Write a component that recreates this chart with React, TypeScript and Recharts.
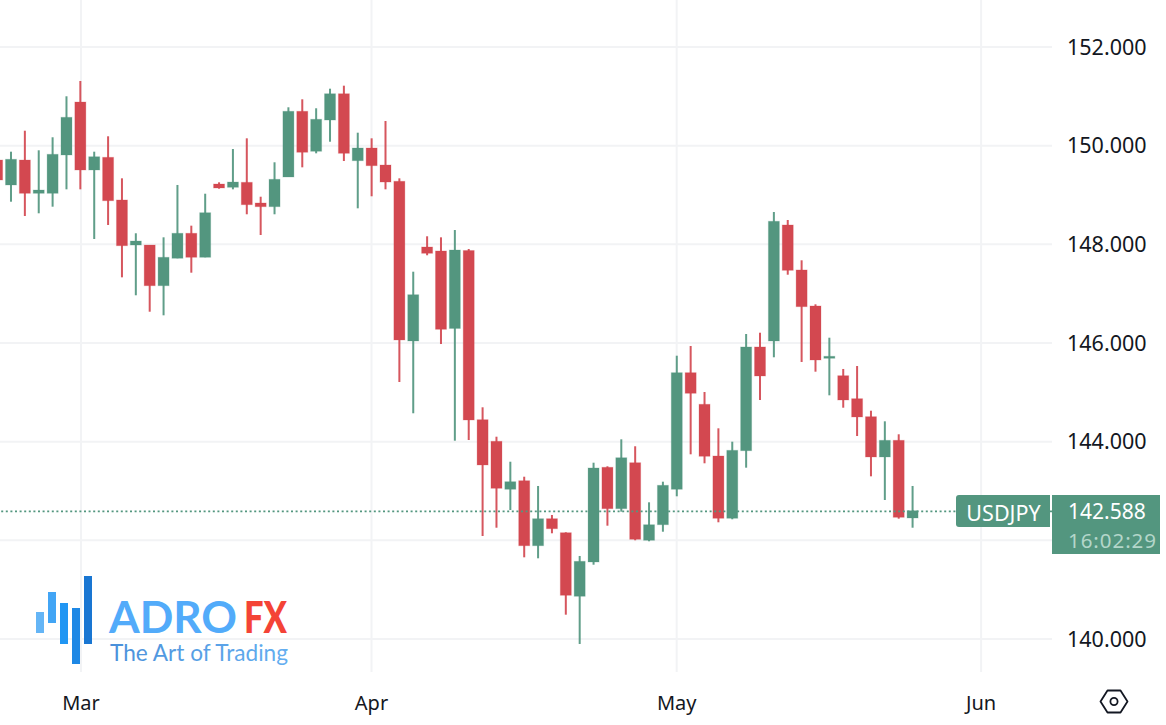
import React from "react";
import { ComposedChart, Bar, XAxis, YAxis, CartesianGrid, ReferenceLine } from "recharts";

const WIDTH = 1166;
const HEIGHT = 725;
const GREEN = "#53967F";
const RED = "#D34850";
const FONT = "'Noto Sans', 'Open Sans', sans-serif";

const highs = [149.812,149.879,150.304,149.907,150.171,151.002,151.312,149.879,150.191,149.339,148.225,147.987,148.143,149.204,148.379,149.027,149.258,149.933,150.15,148.966,149.664,150.779,150.941,150.759,151.156,151.217,150.264,150.15,150.501,149.339,147.446,148.164,148.143,148.291,147.906,144.697,144.101,143.594,143.29,143.102,142.514,142.163,141.683,143.574,143.501,144.048,143.907,142.771,143.189,145.743,145.94,145.007,144.271,144.0,146.183,146.209,148.656,148.494,147.677,146.785,146.108,145.474,145.534,144.628,144.413,144.15,143.102];
const bodyTops = [149.71,149.725,149.71,149.102,149.826,150.576,150.886,149.777,149.765,148.9,148.068,147.987,147.738,148.225,148.225,148.642,149.224,149.264,149.258,148.839,149.319,150.698,150.698,150.536,151.054,151.054,149.954,149.954,149.609,149.279,146.98,147.947,147.866,147.886,147.876,144.446,144.008,143.189,143.209,142.439,142.439,142.155,141.575,143.467,143.481,143.675,143.574,142.317,143.116,145.399,145.399,144.758,143.71,143.825,145.92,145.92,148.468,148.393,147.481,146.751,145.731,145.338,144.872,144.507,144.028,144.028,142.601];
const bodyBottoms = [149.305,149.204,149.035,149.035,149.035,149.812,149.508,149.508,148.885,147.973,147.987,147.162,147.162,147.718,147.738,147.738,149.143,149.157,148.804,148.764,148.764,149.366,149.867,149.887,150.521,149.846,149.696,149.595,149.264,146.062,146.041,147.819,146.278,146.295,144.44,143.528,143.055,143.035,141.891,141.891,142.236,140.886,140.866,141.561,142.642,142.642,142.021,142.001,142.317,143.035,144.981,143.704,142.447,142.447,143.817,145.332,146.041,147.474,146.737,145.656,145.703,144.845,144.501,143.69,143.69,142.467,142.453];
const lows = [149.204,148.865,148.575,148.63,148.764,149.116,149.116,148.109,148.393,147.332,146.968,146.635,146.562,147.718,147.426,147.738,149.129,149.116,148.61,148.19,148.61,149.366,149.562,149.846,150.081,149.69,148.731,148.975,149.116,145.21,144.576,147.779,145.98,144.02,144.034,142.088,142.256,142.615,141.656,141.636,142.143,140.493,139.899,141.506,142.297,142.581,142.001,141.981,142.175,142.893,143.744,143.562,142.366,142.427,143.473,144.845,145.711,147.385,145.616,145.419,144.94,144.689,144.115,143.298,142.818,142.439,142.256];
const rising = [0,1,0,1,1,1,0,1,0,0,1,0,1,1,0,1,0,1,0,0,1,1,0,1,1,0,1,0,0,0,1,0,0,1,0,0,0,1,0,1,0,0,1,1,0,1,0,1,1,1,0,0,0,1,1,0,1,0,0,0,1,0,0,0,1,0,1];

const monthLabels = ["Mar", "Apr", "May", "Jun"];
const monthPositions = [6.02, 26.96, 48.96, 70.91];
const priceTicks = [140, 142, 144, 146, 148, 150, 152];
const lastPrice = 142.588;
const symbol = "USDJPY";
const lastPriceLabel = "142.588";
const countdown = "16:02:29";

const candles = highs.map((high, i) => ({
  i,
  range: [lows[i], high] as [number, number],
  high,
  low: lows[i],
  top: bodyTops[i],
  bottom: bodyBottoms[i],
  up: rising[i] === 1,
}));

function Candle(props: any) {
  const { x, y, width, height, payload } = props;
  if (!payload) return null;
  const h = Math.abs(height);
  const yTop = Math.min(y, y + height);
  const span = payload.high - payload.low || 1;
  const perUnit = h / span;
  const bodyY = yTop + (payload.high - payload.top) * perUnit;
  const bodyH = Math.max((payload.top - payload.bottom) * perUnit, 2);
  const color = payload.up ? GREEN : RED;
  const cx = x + width / 2;
  return (
    <g>
      <rect x={cx - 1} y={yTop} width={2} height={Math.max(h, 1)} fill={color} opacity={0.92} />
      <rect x={cx - 5.5} y={bodyY} width={11} height={bodyH} fill={color} stroke={color} strokeOpacity={0.25} strokeWidth={1} />
    </g>
  );
}

function MonthTick(props: any) {
  const { x, y, payload } = props;
  const k = monthPositions.indexOf(payload.value);
  return (
    <text x={x} y={y} textAnchor="middle" dominantBaseline="central" fontFamily={FONT} fontSize={20} fill="#131722">
      {monthLabels[k]}
    </text>
  );
}

function Overlay() {
  return (
    <svg width={WIDTH} height={HEIGHT} style={{ position: "absolute", left: 0, top: 0, pointerEvents: "none" }} fontFamily={FONT}>
      <defs>
        <linearGradient id="tagline" x1="0" x2="1" y1="0" y2="0">
          <stop offset="0" stopColor="#4A90DA" />
          <stop offset="1" stopColor="#64AEF0" />
        </linearGradient>
      </defs>
      {/* price tag */}
      <path d="M959 495 H1050 V527 H959 a3 3 0 0 1 -3 -3 V498 a3 3 0 0 1 3 -3 Z" fill={GREEN} />
      <rect x={1052} y={495} width={108} height={59} fill={GREEN} />
      <text x={1003.5} y={512} textAnchor="middle" dominantBaseline="central" fontSize={21.5} fill="#ffffff">{symbol}</text>
      <text x={1068} y={511} dominantBaseline="central" fontSize={21} fill="#ffffff">{lastPriceLabel}</text>
      <text x={1068} y={540} dominantBaseline="central" fontSize={20.5} fill="#B4D6CA" textLength={88}>{countdown}</text>
      {/* settings hexagon */}
      <path d="M1107.5 690.5 H1120.5 L1127.5 701.5 L1120.5 712.5 H1107.5 L1100.5 701.5 Z" fill="none" stroke="#131722" strokeWidth={1.8} strokeLinejoin="round" />
      <circle cx={1114} cy={701.5} r={3.6} fill="none" stroke="#131722" strokeWidth={1.8} />
      {/* logo */}
      <rect x={36} y={612} width={8} height={21} fill="#64B5F6" />
      <rect x={48} y={592} width={8} height={31} fill="#42A5F5" />
      <rect x={60} y={603} width={8} height={41} fill="#2196F3" />
      <rect x={72} y={608} width={8} height={56} fill="#1E88E5" />
      <rect x={84} y={576} width={8} height={68} fill="#1976D2" />
      <text x={109} y={633} fontFamily="Lato, sans-serif" fontWeight={700} fontSize={44} fill="#52ABFA" textLength={128} lengthAdjust="spacingAndGlyphs">ADRO</text>
      <text x={244} y={633} fontFamily="Lato, sans-serif" fontWeight={900} fontSize={44} fill="#F44336" textLength={43} lengthAdjust="spacingAndGlyphs">FX</text>
      <text x={110} y={661} fontFamily="Lato, sans-serif" fontWeight={400} fontSize={23} fill="url(#tagline)" textLength={178} lengthAdjust="spacingAndGlyphs">The Art of Trading</text>
    </svg>
  );
}

export default function App() {
  return (
    <div style={{ position: "absolute", left: 0, top: 0, width: WIDTH, height: HEIGHT, background: "#ffffff", overflow: "hidden" }}>
      <ComposedChart width={WIDTH} height={HEIGHT} data={candles} margin={{ top: 0, right: 0, bottom: 0, left: 0 }}>
        <CartesianGrid stroke="#F2F3F5" strokeWidth={2} horizontalValues={priceTicks} verticalValues={monthPositions} />
        <XAxis
          dataKey="i"
          type="number"
          domain={[0.176, 76.02]}
          allowDataOverflow
          ticks={monthPositions}
          interval={0}
          height={53}
          axisLine={false}
          tickLine={false}
          tickMargin={24}
          tick={<MonthTick />}
        />
        <YAxis
          orientation="right"
          type="number"
          domain={[139.331, 152.954]}
          allowDataOverflow
          ticks={priceTicks}
          interval={0}
          width={114}
          axisLine={false}
          tickLine={false}
          tickMargin={9}
          tickFormatter={(v: number) => v.toFixed(3)}
          tick={{ fontFamily: FONT, fontSize: 21.5, fill: "#131722" }}
        />
        <ReferenceLine y={lastPrice} stroke={GREEN} strokeWidth={1.7} strokeDasharray="2 2.6" segment={[{ x: 0.176, y: lastPrice }, { x: 69.06, y: lastPrice }]} />
        <Bar dataKey="range" barSize={11} isAnimationActive={false} shape={<Candle />} />
      </ComposedChart>
      <Overlay />
    </div>
  );
}
